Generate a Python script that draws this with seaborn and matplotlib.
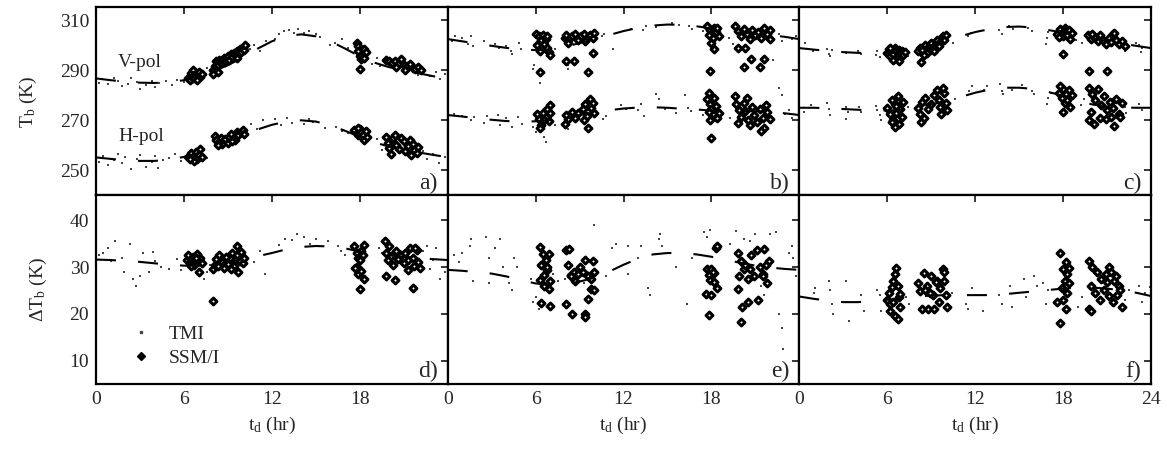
import matplotlib
matplotlib.use("Agg")
import matplotlib.pyplot as plt
from matplotlib.lines import Line2D
import seaborn as sns
import pandas as pd

# ---------------- data ----------------
HOURS = list(range(25))

# fitted diurnal curves
a_v_fit = [286.7, 286.0, 285.4, 285.0, 284.9, 285.2, 286.0, 287.5, 289.5, 292.0, 295.0, 298.5, 301.5,
           303.6, 304.3, 303.5, 301.5, 298.6, 295.5, 293.0, 291.2, 290.0, 288.8, 287.6, 286.7]
a_h_fit = [255.2, 254.6, 254.1, 253.8, 253.8, 254.3, 255.4, 257.0, 259.2, 261.6, 264.0, 266.3, 268.2,
           269.5, 270.0, 269.5, 268.0, 265.8, 263.4, 261.2, 259.5, 258.2, 257.2, 256.2, 255.3]
b_v_fit = [302.4, 301.5, 300.6, 299.7, 298.9, 298.3, 298.0, 298.3, 299.3, 300.8, 302.3, 304.0, 305.6,
           306.9, 307.8, 308.2, 308.1, 307.5, 306.6, 305.7, 305.0, 304.5, 304.0, 303.3, 302.4]
b_h_fit = [272.1, 271.5, 270.8, 270.2, 269.7, 269.5, 269.6, 270.1, 271.0, 272.1, 273.1, 274.0, 274.7,
           275.1, 275.2, 275.0, 274.6, 274.3, 273.9, 273.7, 273.6, 273.6, 273.4, 272.8, 272.1]
c_v_fit = [298.8, 298.2, 297.6, 297.2, 296.9, 296.8, 296.9, 297.4, 298.5, 300.0, 301.7, 303.5, 305.2,
           306.4, 307.2, 307.4, 307.0, 306.0, 305.0, 303.8, 302.7, 301.6, 300.6, 299.7, 298.8]
c_h_fit = [275.0, 275.0, 274.8, 274.5, 274.2, 274.0, 273.9, 274.2, 275.2, 276.4, 277.6, 279.3, 281.0,
           282.3, 283.0, 283.0, 282.5, 281.3, 279.8, 278.0, 276.3, 275.5, 275.1, 275.0, 275.0]
d_fit = [31.6, 31.5, 31.3, 31.1, 30.8, 30.5, 30.3, 30.3, 30.6, 31.1, 31.7, 32.3, 33.0,
         33.8, 34.3, 34.5, 34.4, 34.0, 33.3, 32.8, 32.5, 32.2, 31.9, 31.7, 31.5]
e_fit = [29.4, 29.2, 28.9, 28.6, 28.0, 27.2, 26.5, 26.2, 26.3, 26.9, 27.7, 29.0, 30.5,
         31.8, 32.7, 33.0, 33.0, 32.7, 32.2, 31.5, 30.9, 30.3, 29.9, 29.6, 29.4]
f_fit = [23.7, 23.2, 22.8, 22.5, 22.5, 22.7, 23.0, 23.3, 23.7, 23.9, 24.0, 24.0, 24.0,
         24.0, 24.2, 24.5, 24.8, 25.1, 25.4, 25.6, 25.6, 25.4, 25.0, 24.5, 23.8]

# ---- panel a ----
a_v_ssmi = [(6.3,287.0),(6.5,288.7),(6.6,290.2),(6.7,288.0),(6.8,286.5),(6.9,287.8),(7.0,289.3),(7.1,287.2),
            (6.4,286.0),(7.2,288.4),(6.6,286.8),(6.9,285.9),
            (8.0,290.0),(8.1,291.8),(8.2,293.5),(8.3,292.2),(8.4,294.0),(8.5,292.8),(8.6,293.9),(8.7,295.0),
            (8.8,293.2),(8.9,294.6),(9.0,295.8),(9.1,294.2),(9.2,296.3),(9.3,295.2),(9.4,297.0),(9.5,296.0),
            (9.6,297.7),(9.7,296.6),(9.8,298.4),(9.9,297.3),(10.0,299.0),(10.1,298.0),(10.2,300.0),(8.3,289.4),
            (9.6,294.8),(8.0,288.5),
            (17.8,301.0),(17.9,299.5),(18.0,298.0),(18.1,297.0),(18.2,296.2),(18.3,298.5),(18.0,295.5),
            (17.9,297.8),(18.4,297.3),(18.1,294.5),(18.3,295.0),(18.0,290.5),
            (19.8,294.0),(20.0,293.5),(20.2,292.7),(20.4,293.8),(20.6,292.5),(20.8,294.5),(21.0,292.0),
            (21.2,291.5),(21.4,292.6),(21.6,291.0),(21.8,290.5),(22.0,291.3),(20.5,291.2),(21.1,290.2),(22.2,290.0)]
a_v_tmi = [(0.2,285),(0.4,286.5),(0.8,284.5),(1.2,287),(1.5,285.5),(1.8,283.5),(2.2,284.5),(2.4,286.8),
           (2.8,285.3),(3.0,282.5),(3.4,284),(3.8,285.8),(4.0,283.2),(4.3,284.8),(4.8,285.6),(5.2,284),
           (5.5,286.2),(6.0,285.3),(7.4,288.5),(7.6,291),(10.5,298.5),(10.8,300),(11.2,297.5),(11.6,301.5),
           (12.2,302.5),(12.5,304.5),(12.8,305.5),(13.2,306),(13.5,304.8),(13.8,306.5),(14.2,305),(14.5,305.6),
           (15.0,304.5),(15.3,303.3),(16.3,301.0),(16.8,302.5),(17.2,298.7),(18.8,292.5),(19.2,294.8),
           (19.4,291.8),(22.4,290.3),(22.8,287.5),(23.2,289.2),(23.5,286.3),(23.8,288.5),(24.0,285.3),
           (22.0,288.2),(16.0,299.9)]
a_h_ssmi = [(6.3,255.5),(6.5,256.8),(6.6,255.0),(6.8,257.3),(6.9,254.4),(7.0,256.0),(7.1,258.5),(6.7,253.8),
            (7.2,255.2),(6.4,254.6),
            (8.1,263.8),(8.2,262.0),(8.4,261.2),(8.5,263.0),(8.6,260.5),(8.8,262.5),(9.0,261.0),(9.1,263.5),
            (9.2,264.6),(9.4,263.0),(9.5,262.0),(9.6,265.5),(9.7,264.0),(9.9,265.2),(10.0,266.3),(10.1,264.5),
            (8.3,260.0),(9.3,261.8),
            (17.6,266.3),(17.8,265.0),(17.9,264.0),(18.0,266.5),(18.1,265.3),(18.2,264.3),(18.3,262.0),
            (18.5,263.3),(17.9,267.0),(18.4,265.8),
            (19.8,263.5),(19.9,261.0),(20.0,259.0),(20.1,256.5),(20.3,262.8),(20.5,260.3),(20.7,258.6),
            (20.8,263.0),(21.0,261.7),(21.1,257.7),(21.3,259.8),(21.4,262.2),(21.6,260.5),(21.7,258.0),
            (21.9,256.8),(22.0,259.2),(20.4,264.0),(21.5,256.3)]
a_h_tmi = [(0.2,253.5),(0.5,255.8),(0.8,252),(1.2,254),(1.5,256.5),(1.8,252.8),(2.0,255.5),(2.4,250.5),
           (2.8,254.5),(3.0,256),(3.4,251.5),(3.8,253.3),(4.0,255.6),(4.2,250.8),(4.6,254.2),(5.0,255.0),
           (5.4,256.5),(5.8,253.8),(7.4,258.2),(7.6,254.8),(10.6,268.5),(11.0,266.5),(11.4,270.0),
           (12.2,270.5),(12.6,268.2),(13.0,270.8),(13.4,269.0),(14.2,268.5),(14.5,270.5),(14.8,269.2),
           (15.6,266.8),(16.4,267.5),(16.8,265.8),(17.2,264.8),(19.2,262.5),(22.3,257.8),(22.6,254.5),
           (23.0,256.6),(23.4,253.0),(23.8,255.3),(24.0,252.8),(19.5,258.3)]

# ---- panel b ----
b_v_ssmi = [(6.0,304.3),(6.2,303.5),(6.4,302.0),(6.6,300.5),(6.8,299.0),(6.3,297.5),(6.5,304.0),(6.7,302.5),
            (6.9,297.2),(7.0,296.2),(6.1,300.0),(6.3,289.2),(6.8,303.8),
            (8.0,303.0),(8.1,304.2),(8.3,302.5),(8.5,303.8),(8.7,304.5),(8.9,302.2),(9.1,303.5),(9.3,304.6),
            (9.5,302.8),(9.7,304.0),(9.9,303.0),(10.0,304.7),(8.1,293.7),(8.6,293.5),(9.6,289.2),(9.9,297.0),
            (8.2,300.8),(9.4,301.5),
            (17.7,307.5),(17.9,306.0),(18.0,304.5),(18.1,303.0),(18.2,306.8),(18.3,305.2),(18.4,307.0),
            (18.5,303.8),(18.0,301.0),(18.2,298.5),(17.9,289.7),(17.8,304.0),
            (19.6,307.5),(19.8,305.5),(20.0,303.8),(20.2,306.5),(20.4,304.6),(20.6,302.5),(20.8,306.0),
            (21.0,304.0),(21.2,305.3),(21.4,303.0),(21.6,306.8),(21.8,304.4),(22.0,302.6),(19.8,299.0),
            (20.2,291.2),(20.7,294.5),(21.3,291.3),(21.6,294.6),(20.3,298.7),(22.0,306.0)]
b_v_tmi = [(0.3,301.5),(0.5,303.5),(1.0,302.8),(1.4,300.5),(1.6,303.6),(1.7,299.5),(2.5,301.8),(3.2,300.5),
           (3.5,298.7),(4.0,299.5),(4.3,297.6),(4.4,296.5),(4.9,301.0),(5.0,298.5),(5.8,290.3),(5.9,292.0),
           (6.3,285.0),(7.3,298.5),(8.2,290.5),(8.2,292.0),(10.5,303.5),(10.7,304.5),(11.3,298.3),
           (12.5,306.3),(13.3,306.0),(13.5,307.6),(14.2,307.2),(15.3,309.0),(15.8,308.0),(16.5,307.5),
           (16.7,306.3),(17.4,305.5),(19.2,303.0),(19.5,300.3),(22.2,294.0),(22.6,304.5),(22.8,301.5),
           (23.5,302.5),(23.8,303.5)]
b_h_ssmi = [(6.1,272.5),(6.2,270.5),(6.4,268.0),(6.5,273.0),(6.7,271.5),(6.8,274.5),(7.0,276.0),(6.9,269.8),
            (6.3,266.8),(6.6,270.0),(7.0,272.8),
            (8.0,268.5),(8.2,270.5),(8.4,272.5),(8.5,273.5),(8.7,271.0),(8.9,272.8),(9.2,274.5),(9.4,276.5),
            (9.5,271.8),(9.7,278.5),(9.8,275.0),(10.0,273.0),(9.6,266.8),(8.1,272.0),(9.9,277.0),(9.3,270.0),
            (17.7,278.5),(17.8,281.0),(17.9,276.5),(18.0,274.5),(18.1,272.5),(18.2,279.0),(18.3,275.8),
            (18.5,273.0),(17.9,270.0),(18.0,263.0),(18.4,271.0),(17.8,273.5),
            (19.6,279.5),(19.7,276.5),(19.9,274.0),(20.0,271.5),(20.2,277.0),(20.3,273.8),(20.5,270.0),
            (20.6,268.0),(20.8,275.5),(20.9,272.2),(21.1,269.5),(21.3,274.6),(21.5,271.0),(21.6,267.0),
            (21.8,273.5),(22.0,270.5),(21.7,276.0),(20.4,279.0),(21.4,265.8),(19.8,268.8)]
b_h_tmi = [(0.4,272.5),(1.0,271.8),(1.6,270.3),(1.8,271.5),(2.5,269.0),(2.7,271.6),(3.4,272.3),(3.6,268.2),
           (4.0,270.8),(4.4,267.5),(4.8,271.5),(5.1,268.7),(5.8,267.5),(6.0,265.5),(6.6,263.5),(6.7,261.5),
           (7.3,268.0),(8.2,266.5),(8.2,267.8),(10.6,270.5),(10.8,271.8),(11.8,276.0),(12.2,274.4),
           (13.0,274.0),(13.2,276.5),(13.4,271.8),(14.2,280.3),(14.4,278.5),(14.8,274.6),(15.6,272.8),
           (16.4,274.8),(16.6,273.6),(16.2,280.0),(17.4,272.0),(19.3,270.8),(22.6,283.0),(22.8,280.0),
           (23.0,272.5),(23.5,271.0),(23.3,274.3)]

# ---- panel c ----
c_v_ssmi = [(6.0,297.0),(6.1,298.5),(6.2,295.5),(6.3,297.8),(6.4,296.3),(6.5,299.0),(6.6,297.5),(6.7,295.0),
            (6.8,298.2),(6.9,296.8),(7.0,297.6),(7.1,296.0),(6.4,294.0),(6.8,293.8),(7.2,297.2),(6.2,298.8),
            (8.1,297.5),(8.2,299.0),(8.3,293.3),(8.4,298.0),(8.6,300.0),(8.7,297.0),(8.9,299.5),(9.0,301.0),
            (9.1,298.5),(9.3,300.5),(9.4,302.0),(9.5,299.6),(9.7,301.7),(9.8,303.5),(9.9,302.0),(10.0,304.0),
            (8.5,296.0),(9.2,297.6),
            (17.6,304.5),(17.8,306.5),(17.9,305.0),(18.0,303.5),(18.1,307.0),(18.2,305.5),(18.3,304.0),
            (18.4,306.2),(18.5,302.5),(18.0,296.4),(17.7,303.2),(18.6,305.0),
            (19.7,304.0),(19.9,302.5),(20.0,304.5),(20.2,303.0),(20.4,301.5),(20.5,304.2),(20.7,302.2),
            (20.9,300.5),(21.1,303.0),(21.3,301.2),(21.4,304.5),(21.6,302.0),(21.8,300.3),(22.0,301.5),
            (22.2,299.5),(21.5,305.0)]
c_v_tmi = [(0.9,297.8),(1.9,298.5),(2.0,296.5),(2.1,295.5),(2.2,298.0),(3.2,297.0),(4.0,297.5),(4.2,296.4),
           (5.2,296.0),(5.3,297.5),(5.5,295.2),(7.4,295.7),(10.5,301.0),(11.5,303.5),(11.7,305.0),
           (12.3,305.6),(13.6,306.0),(13.8,304.5),(14.3,307.5),(14.6,306.5),(15.6,306.8),(15.9,305.6),
           (16.8,300.5),(16.9,303.0),(17.0,305.3),(18.9,302.0),(19.3,301.0),(22.2,297.5),(23.0,301.0),
           (23.2,300.0),(23.4,298.8),(23.3,297.2),(0.4,300.8)]
c_h_ssmi = [(6.0,275.0),(6.2,272.5),(6.3,278.0),(6.4,270.0),(6.5,276.5),(6.6,273.0),(6.7,279.5),(6.8,268.5),
            (6.9,274.5),(7.0,271.5),(6.5,267.2),(7.1,277.5),(6.3,269.5),(6.6,275.8),
            (8.1,275.0),(8.2,272.5),(8.3,269.2),(8.4,277.5),(8.6,279.0),(8.8,274.5),(9.0,276.5),(9.2,280.0),
            (9.4,282.0),(9.5,278.0),(9.6,275.5),(9.7,272.5),(9.9,281.0),(10.0,277.0),(10.1,274.0),(8.5,271.0),
            (9.8,283.0),
            (17.7,281.0),(17.9,279.0),(18.0,282.5),(18.1,277.0),(18.2,280.5),(18.3,278.0),(18.4,282.0),
            (18.5,275.5),(18.0,273.5),(18.6,280.0),(17.8,283.5),
            (19.8,289.5),(21.0,289.8),(19.8,283.0),(20.0,280.5),(20.2,278.0),(20.4,282.5),(20.6,276.0),
            (20.8,279.5),(21.0,274.0),(21.2,277.5),(21.4,275.0),(21.6,278.5),(21.8,272.5),(22.0,276.8),
            (19.8,270.0),(20.1,268.5),(20.5,271.0),(20.9,270.5),(21.3,271.5),(21.5,267.8),(21.9,271.5),
            (19.9,273.5)]
c_h_tmi = [(0.8,276.0),(1.9,277.0),(2.0,274.5),(2.1,272.0),(3.2,275.5),(3.3,273.3),(3.2,270.5),(4.1,275.3),
           (4.2,273.5),(5.2,275.8),(5.3,274.0),(5.5,272.0),(5.6,270.3),(7.4,275.5),(10.6,278.5),(11.6,281.5),
           (11.8,283.5),(12.6,282.0),(12.8,283.6),(13.7,284.5),(13.8,281.5),(13.9,280.3),(14.5,282.2),
           (15.2,284.0),(15.9,281.5),(16.0,280.3),(16.9,276.5),(17.0,279.0),(17.2,281.0),(19.2,276.0),
           (19.4,278.5),(22.2,275.5),(22.3,273.0),(23.2,276.5),(23.4,274.0),(0.3,273.5)]

# ---- panel d ----
d_ssmi = [(6.2,31.5),(6.3,32.5),(6.4,30.8),(6.5,31.8),(6.6,32.2),(6.7,30.5),(6.8,31.2),(6.9,32.8),(7.0,31.5),
          (7.1,32.0),(7.2,30.9),(6.5,30.3),(7.0,28.9),(6.8,31.9),
          (8.0,29.5),(8.1,30.5),(8.2,31.8),(8.3,30.2),(8.4,32.5),(8.6,31.0),(8.7,29.8),(8.9,32.2),(9.0,30.6),
          (9.2,31.7),(9.3,33.0),(9.4,30.3),(9.5,31.5),(9.6,32.6),(9.7,29.0),(9.8,31.3),(9.9,33.2),(10.0,30.8),
          (10.1,32.0),(9.6,34.5),(8.0,22.8),(9.2,29.5),
          (17.6,34.5),(17.8,33.0),(17.9,32.0),(18.0,31.5),(18.1,33.5),(18.2,32.5),(18.3,34.8),(17.8,30.0),
          (17.9,28.5),(18.1,29.2),(18.3,27.5),(18.0,25.4),(17.7,29.8),
          (19.7,35.5),(19.8,33.0),(19.9,31.5),(20.0,34.5),(20.1,32.3),(20.3,30.5),(20.5,33.5),(20.6,31.8),
          (20.8,32.5),(21.0,30.8),(21.1,33.0),(21.3,31.5),(21.4,34.0),(21.6,32.0),(21.7,30.2),(21.9,33.7),
          (22.0,31.0),(21.8,34.0),(19.8,28.0),(20.4,27.3),(21.3,29.3),(21.6,25.5),(22.1,29.8)]
d_tmi = [(0.2,32.5),(0.5,33.0),(0.8,34.0),(1.0,31.2),(1.3,35.5),(1.8,32.0),(1.9,29.0),(2.3,35.0),(2.5,27.5),
         (2.7,26.0),(3.0,28.0),(3.2,33.0),(3.6,29.0),(3.9,33.3),(4.0,31.2),(4.4,30.0),(5.0,29.5),(5.5,31.8),
         (5.8,29.4),(7.3,31.0),(7.4,27.5),(7.6,29.0),(7.8,30.5),(10.8,31.0),(11.2,33.5),(11.5,28.5),
         (12.5,34.8),(12.9,36.0),(13.4,35.7),(13.7,37.0),(14.2,36.5),(14.6,35.0),(15.0,36.0),(15.8,35.5),
         (16.5,34.5),(16.7,33.5),(17.0,32.5),(19.3,34.0),(19.5,33.0),(22.3,33.5),(22.6,34.5),(22.8,29.5),
         (23.2,34.0),(23.5,27.5),(23.8,29.0),(24.0,32.0),(23.0,31.5)]

# ---- panel e ----
e_ssmi = [(6.3,34.2),(6.5,32.8),(6.7,31.5),(6.9,32.7),(6.4,30.5),(6.6,28.3),(6.8,29.3),(7.0,27.0),(6.3,27.3),
          (6.9,25.3),(6.4,22.3),(7.0,21.7),(6.6,26.0),(6.8,30.0),
          (8.1,33.7),(8.3,33.8),(8.2,30.5),(8.4,28.3),(8.6,29.0),(8.7,27.0),(8.9,28.5),(9.0,30.0),(9.2,29.0),
          (9.4,31.5),(9.6,28.0),(9.8,27.5),(9.9,31.2),(10.0,29.0),(9.8,25.3),(10.0,25.0),(9.6,23.2),
          (8.1,22.0),(8.5,20.0),(9.4,20.0),(9.4,19.3),(8.4,28.0),
          (17.7,29.5),(17.8,28.3),(18.0,29.5),(18.2,28.8),(18.3,34.0),(18.4,34.5),(17.9,27.2),(18.2,26.8),
          (18.4,25.5),(17.6,24.3),(18.0,24.0),(17.8,19.8),(18.1,29.0),
          (19.8,33.0),(20.0,31.2),(20.2,29.5),(19.9,28.0),(20.3,30.5),(20.5,27.5),(20.7,32.5),(20.9,28.0),
          (21.1,33.7),(21.3,30.0),(21.5,28.5),(21.6,33.8),(21.7,30.5),(21.8,26.5),(21.9,31.2),(19.8,25.3),
          (20.1,21.5),(20.5,22.5),(21.2,23.0),(20.0,18.2),(21.5,28.0),(20.6,29.5)]
e_tmi = [(0.4,32.5),(0.8,31.0),(1.0,33.0),(1.5,34.5),(1.6,36.0),(1.7,27.0),(2.6,36.5),(2.8,32.0),(2.8,26.5),
         (3.2,34.0),(3.6,36.0),(3.8,30.0),(4.2,26.5),(4.4,25.0),(4.5,32.0),(4.7,30.0),(5.7,27.5),(5.8,22.5),
         (6.0,23.5),(6.2,21.0),(7.2,28.5),(7.5,27.0),(8.0,27.5),(9.3,26.5),(10.0,39.0),(10.8,28.0),
         (11.2,34.0),(11.5,35.0),(12.3,34.5),(12.3,28.5),(13.0,32.0),(13.2,34.5),(13.7,25.5),(13.8,24.0),
         (14.4,36.0),(14.5,37.0),(14.6,34.5),(15.6,30.0),(16.3,22.0),(16.7,32.0),(17.5,37.5),(17.7,36.5),
         (17.9,38.0),(19.7,37.8),(19.3,35.0),(20.2,36.0),(20.6,35.5),(21.0,37.0),(21.4,26.0),(21.6,24.0),
         (22.0,37.0),(22.4,37.5),(22.6,20.0),(22.8,17.0),(22.9,12.5),(23.3,33.0),(23.6,32.0),(23.8,28.0),
         (23.5,34.5)]

# ---- panel f ----
f_ssmi = [(6.0,23.0),(6.1,24.5),(6.2,22.0),(6.3,25.8),(6.4,27.0),(6.5,28.5),(6.6,29.8),(6.7,26.0),(6.8,23.5),
          (6.9,21.5),(6.2,20.5),(6.5,19.5),(6.7,19.0),(6.4,22.6),(6.9,24.3),
          (8.1,26.5),(8.2,24.8),(8.4,21.0),(8.5,28.8),(8.7,26.0),(8.8,21.0),(9.0,28.0),(9.1,24.0),(9.2,21.0),
          (9.4,27.0),(9.5,22.5),(9.6,25.5),(9.8,29.5),(9.9,27.0),(10.0,24.0),(10.1,21.5),(9.9,29.0),
          (8.9,24.5),(9.3,26.8),(8.6,25.0),
          (17.8,33.0),(18.2,31.0),(18.0,29.5),(18.3,28.5),(18.1,27.0),(18.4,26.5),(17.9,25.5),(18.3,24.5),
          (18.0,23.0),(17.6,22.5),(18.2,21.0),(17.8,18.0),(18.4,29.8),
          (19.8,31.3),(20.0,30.0),(20.3,29.0),(20.6,27.5),(20.9,28.5),(21.1,30.0),(21.3,29.0),(21.5,27.0),
          (21.6,28.0),(21.8,26.0),(19.9,26.0),(20.2,24.5),(20.5,23.0),(20.8,25.0),(21.1,23.8),(21.4,22.5),
          (21.7,24.0),(22.0,21.5),(19.8,21.0),(19.9,20.5),(21.0,26.8),(21.9,25.0)]
f_tmi = [(1.0,24.5),(1.1,25.5),(2.0,27.0),(2.1,25.0),(2.2,22.0),(2.3,20.0),(3.2,27.0),(3.2,22.5),(3.4,18.5),
         (4.2,24.0),(4.4,20.5),(5.3,25.0),(5.5,24.0),(5.6,20.5),(7.3,23.5),(7.5,22.0),(10.4,24.5),(11.4,22.0),
         (11.5,21.0),(11.8,25.5),(12.5,20.5),(13.6,24.0),(13.8,22.0),(14.4,26.0),(14.5,21.5),(15.3,27.5),
         (15.5,23.5),(16.0,28.0),(16.2,26.0),(16.6,26.5),(16.8,22.0),(17.0,25.0),(19.0,21.5),(19.3,23.5),
         (22.2,23.0),(22.5,25.0),(23.2,26.0),(23.4,22.5),(23.6,24.5),(23.9,25.8)]

PANEL_LABELS = ["a)", "b)", "c)", "d)", "e)", "f)"]
X_TICKS = [0, 6, 12, 18, 24]
TOP_Y_TICKS = [250, 270, 290, 310]
BOT_Y_TICKS = [10, 20, 30, 40]

# ---------------- style ----------------
sns.set_style("white")
plt.rcParams["font.family"] = ["Liberation Serif", "DejaVu Serif"]
plt.rcParams["mathtext.fontset"] = "custom"
plt.rcParams["mathtext.rm"] = "Liberation Serif"
plt.rcParams["mathtext.it"] = "Liberation Serif:italic"
FS = 14

fig, axes = plt.subplots(2, 3, figsize=(11.67, 4.49), dpi=100)
fig.subplots_adjust(left=0.0823, right=0.9863, top=0.9844, bottom=0.1448, wspace=0, hspace=0)

DASH = (0, (9.6, 10.6))


def tmi(ax, pts):
    df = pd.DataFrame(pts, columns=["t", "v"])
    sns.scatterplot(data=df, x="t", y="v", ax=ax, marker="s", s=2.5, color="#444444",
                    linewidth=0, legend=False, zorder=2)


def ssmi(ax, pts):
    df = pd.DataFrame(pts, columns=["t", "v"])
    sns.scatterplot(data=df, x="t", y="v", ax=ax, marker="D", s=12, facecolor="white",
                    edgecolor="black", linewidth=2.2, legend=False, zorder=3)


def fit(ax, vals):
    df = pd.DataFrame({"t": HOURS, "v": vals})
    sns.lineplot(data=df, x="t", y="v", ax=ax, color="black", linewidth=1.5, linestyle=DASH,
                 legend=False, zorder=4)


top_sets = [
    (a_v_tmi, a_v_ssmi, a_v_fit, a_h_tmi, a_h_ssmi, a_h_fit),
    (b_v_tmi, b_v_ssmi, b_v_fit, b_h_tmi, b_h_ssmi, b_h_fit),
    (c_v_tmi, c_v_ssmi, c_v_fit, c_h_tmi, c_h_ssmi, c_h_fit),
]
bot_sets = [(d_tmi, d_ssmi, d_fit), (e_tmi, e_ssmi, e_fit), (f_tmi, f_ssmi, f_fit)]

for j, (vt, vs, vf, ht, hs, hf) in enumerate(top_sets):
    ax = axes[0, j]
    for pts in (vt, ht):
        tmi(ax, pts)
    for pts in (vs, hs):
        ssmi(ax, pts)
    fit(ax, vf)
    fit(ax, hf)
    ax.set_ylim(240, 315.2)
    ax.set_yticks(TOP_Y_TICKS)

for j, (t_, s_, f_) in enumerate(bot_sets):
    ax = axes[1, j]
    tmi(ax, t_)
    ssmi(ax, s_)
    fit(ax, f_)
    ax.set_ylim(5, 45.3)
    ax.set_yticks(BOT_Y_TICKS)

for i in range(2):
    for j in range(3):
        ax = axes[i, j]
        ax.set_xlim(0, 24)
        ax.set_xticks(X_TICKS)
        ax.tick_params(direction="in", length=5, width=1.3, top=True, right=True,
                       labelsize=FS, pad=5)
        for sp in ax.spines.values():
            sp.set_linewidth(1.6)
            sp.set_color("black")
        ax.set_xlabel("")
        ax.set_ylabel("")
        if j > 0:
            ax.set_yticklabels([])
        if i == 0:
            ax.set_xticklabels([])
        else:
            if j < 2:
                ax.set_xticklabels([str(x) for x in X_TICKS[:-1]] + [""])
            ax.set_xlabel("t$_\\mathrm{d}$ (hr)", fontsize=FS, labelpad=5)
        ax.text(0.972, 0.008, PANEL_LABELS[i * 3 + j], transform=ax.transAxes, ha="right",
                va="bottom", fontsize=FS + 3)

axes[0, 0].set_ylabel("T$_\\mathrm{b}$ (K)", fontsize=FS, labelpad=15)
axes[1, 0].set_ylabel("\u0394T$_\\mathrm{b}$ (K)", fontsize=FS, labelpad=15)

axes[0, 0].text(1.5, 293.0, "V-pol", fontsize=FS, ha="left", va="center")
axes[0, 0].text(1.5, 263.7, "H-pol", fontsize=FS, ha="left", va="center")

handles = [
    Line2D([], [], linestyle="none", marker="s", markersize=1.6, color="#444444", label="TMI"),
    Line2D([], [], linestyle="none", marker="D", markersize=4.5, markerfacecolor="black",
           markeredgecolor="black", markeredgewidth=1.0, label="SSM/I"),
]
axes[1, 0].legend(handles=handles, loc="upper left", bbox_to_anchor=(0.055, 0.385), frameon=False,
                  fontsize=FS, handlelength=1.2, handletextpad=0.85, labelspacing=0.35,
                  borderpad=0.2)

fig.savefig("out.png", dpi=100)
